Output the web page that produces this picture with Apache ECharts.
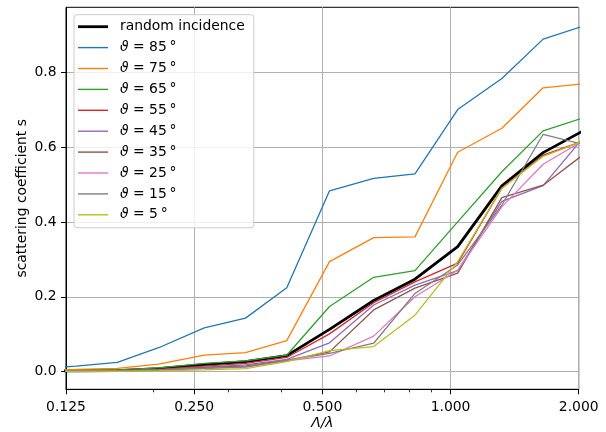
<!DOCTYPE html>
<html>
<head>
<meta charset="utf-8">
<script src="https://cdn.jsdelivr.net/npm/echarts@6/dist/echarts.min.js"></script>
<style>html,body{margin:0;padding:0;background:#fff}#c{width:606px;height:432px}</style>
</head>
<body>
<div id="c"></div>
<script>
// Λ/λ values (third-octave steps)
var xValues = [0.104, 0.132, 0.165, 0.20625, 0.264, 0.33, 0.4125, 0.51975, 0.66, 0.825, 1.0395, 1.32, 1.65, 2.0625];
var xTicks = [0.125, 0.25, 0.5, 1, 2];
var xMinorTicks = [0.2, 0.3, 0.4, 0.6, 0.7, 0.8, 0.9];
var yTicks = [0, 0.2, 0.4, 0.6, 0.8];

var seriesNames = ['random incidence', '85', '75', '65', '55', '45', '35', '25', '15', '5'];
var sRandom = [0.002, 0.002, 0.003, 0.008, 0.019, 0.027, 0.043, 0.113, 0.190, 0.247, 0.334, 0.496, 0.585, 0.645];
var s85 = [0.006, 0.015, 0.025, 0.064, 0.117, 0.143, 0.224, 0.483, 0.516, 0.528, 0.700, 0.783, 0.888, 0.924];
var s75 = [0.004, 0.006, 0.009, 0.020, 0.044, 0.051, 0.083, 0.294, 0.358, 0.360, 0.586, 0.650, 0.758, 0.769];
var s65 = [0.002, 0.003, 0.005, 0.010, 0.022, 0.029, 0.044, 0.174, 0.252, 0.270, 0.400, 0.534, 0.643, 0.679];
var s55 = [0.002, 0.002, 0.003, 0.006, 0.015, 0.022, 0.038, 0.101, 0.184, 0.240, 0.290, 0.490, 0.578, 0.617];
var s45 = [0.002, 0.002, 0.003, 0.005, 0.012, 0.018, 0.033, 0.077, 0.178, 0.231, 0.270, 0.455, 0.497, 0.629];
var s35 = [0.002, 0.002, 0.003, 0.005, 0.011, 0.015, 0.030, 0.053, 0.165, 0.223, 0.263, 0.465, 0.498, 0.582];
var s25 = [0.002, 0.002, 0.002, 0.004, 0.009, 0.012, 0.029, 0.042, 0.095, 0.200, 0.271, 0.440, 0.554, 0.619];
var s15 = [0.002, 0.002, 0.002, 0.004, 0.009, 0.013, 0.030, 0.049, 0.076, 0.209, 0.285, 0.445, 0.634, 0.606];
var s5  = [0.001, 0.001, 0.001, 0.002, 0.005, 0.008, 0.027, 0.056, 0.067, 0.151, 0.294, 0.490, 0.575, 0.617];

var allValues = [sRandom, s85, s75, s65, s55, s45, s35, s25, s15, s5];
var colors = ['#000000', '#1f77b4', '#ff7f0e', '#2ca02c', '#d62728', '#9467bd', '#8c564b', '#e377c2', '#7f7f7f', '#bcbd22'];

function pairs(vals) {
  return xValues.map(function (x, i) { return [x, vals[i]]; });
}

var FONT = 'DejaVu Sans';
var FS = 13.9;

var series = allValues.map(function (vals, k) {
  var name = k === 0 ? seriesNames[0] : 'ϑ = ' + seriesNames[k] + '°';
  return {
    name: name,
    type: 'line',
    data: pairs(vals),
    symbol: 'none',
    clip: true,
    xAxisIndex: 0,
    lineStyle: { color: colors[k], width: k === 0 ? 2.8 : 1.3 },
    itemStyle: { color: colors[k] },
    emphasis: { disabled: true }
  };
});

var legendData = series.map(function (s, k) {
  return {
    name: s.name,
    icon: k === 0 ? 'path://M0,0H30V2.8H0Z' : 'path://M0,0H30V1.4H0Z'
  };
});

var chart = echarts.init(document.getElementById('c'), null, { renderer: 'canvas' });
chart.setOption({
  animation: false,
  textStyle: { fontFamily: FONT },
  grid: {
    left: 66, right: 27.3, top: 7.3, bottom: 42.7,
    show: true, borderColor: '#000', borderWidth: 1, backgroundColor: 'transparent',
    containLabel: false, outerBoundsMode: 'none'
  },
  legend: {
    orient: 'vertical', left: 74, top: 14.7,
    itemWidth: 30, itemHeight: 14, itemGap: 6.9,
    padding: [5, 9, 6, 4],
    backgroundColor: 'rgba(255,255,255,0.8)',
    borderColor: '#cccccc', borderWidth: 1, borderRadius: 3,
    selectedMode: false,
    symbolKeepAspect: true,
    formatter: function (name) {
      if (name.indexOf('ϑ') === 0) {
        return '{i|ϑ} = ' + name.slice(4, -1) + '\u2009°';
      }
      return name;
    },
    textStyle: {
      fontFamily: FONT, fontSize: FS, color: '#000', padding: [0, 0, 0, 7],
      rich: { i: { fontFamily: FONT, fontStyle: 'italic', fontSize: FS, color: '#000' } }
    },
    data: legendData
  },
  xAxis: [{
    type: 'log', logBase: 2, min: 0.125, max: 2,
    position: 'bottom',
    name: 'Λ/λ', nameLocation: 'middle', nameGap: 27, nameMoveOverlap: false,
    nameTextStyle: { fontFamily: FONT, fontSize: FS, fontStyle: 'italic', color: '#000' },
    axisLine: { show: true, onZero: false, lineStyle: { color: '#000', width: 1 } },
    axisTick: { show: true, length: 5, lineStyle: { color: '#000', width: 1 } },
    axisLabel: {
      show: true, margin: 11, color: '#000', fontFamily: FONT, fontSize: FS,
      showMinLabel: true, showMaxLabel: true,
      formatter: function (v) { return Number(v).toFixed(3); }
    },
    splitLine: { show: true, lineStyle: { color: '#b0b0b0', width: 1 } },
    minorTick: { show: false }
  }, {
    type: 'log', logBase: 2, min: 0.125, max: 2,
    position: 'bottom',
    axisLine: { show: false, onZero: false },
    axisLabel: { show: false },
    splitLine: { show: false },
    axisTick: { show: true, length: 3, customValues: xMinorTicks, lineStyle: { color: '#000', width: 0.8 } }
  }],
  yAxis: {
    type: 'value', min: -0.047, max: 0.973,
    name: 'scattering coefficient s', nameLocation: 'middle', nameGap: 37, nameRotate: 90,
    nameMoveOverlap: false,
    nameTextStyle: { fontFamily: FONT, fontSize: FS, color: '#000' },
    axisLine: { show: true, onZero: false, lineStyle: { color: '#000', width: 1 } },
    axisTick: { show: true, length: 5, customValues: yTicks, lineStyle: { color: '#000', width: 1 } },
    axisLabel: {
      show: true, margin: 9.5, color: '#000', fontFamily: FONT, fontSize: FS,
      customValues: yTicks,
      formatter: function (v) { return Number(v).toFixed(1); }
    },
    splitLine: { show: true, lineStyle: { color: '#b0b0b0', width: 1 } }
  },
  series: series
});
</script>
</body>
</html>
